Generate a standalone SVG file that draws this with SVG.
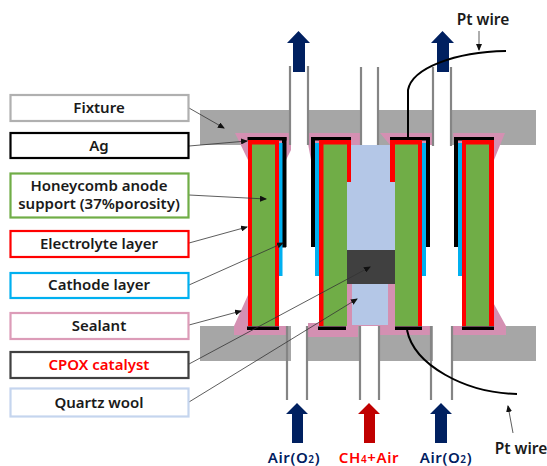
<svg xmlns="http://www.w3.org/2000/svg" width="547" height="466" viewBox="0 0 547 466">
<style>
text{font-family:"Noto Sans","Liberation Sans",sans-serif;font-weight:600;font-size:15px;fill:#1a1a1a;text-anchor:middle}
.box{fill:#fff;stroke-width:2.2}
.tube{stroke:#858585;stroke-width:2.2;fill:none}
.lead{stroke:#333;stroke-width:.8;fill:none;marker-end:url(#tip)}
.wire{stroke:#000;stroke-width:2;fill:none}
.gas{letter-spacing:.6px}
.g{fill:#70ad47}.r{fill:#f00}.c{fill:#00b0f0}.k{fill:#000}.s{fill:#d490b2}.q{fill:#b4c7e7}.n{fill:#002060}
</style>
<defs><marker id="tip" markerWidth="7" markerHeight="6" refX="6" refY="3" orient="auto" markerUnits="userSpaceOnUse"><path d="M0 0L7 3L0 6z" fill="#111"/></marker></defs>
<rect width="547" height="466" fill="#fff"/>
<g id="fixture">
<rect x="200" y="110" width="336" height="35" fill="#a6a6a6"/>
<rect x="200" y="326" width="336" height="35" fill="#a6a6a6"/>
</g>
<g id="sealant">
<path class="s" d="M235 133H292V148L286 160H248z"/>
<path class="s" d="M306 133H360V145H318V160H311z"/>
<path class="s" d="M380 133H435V145H390z"/>
<path class="s" d="M453 133H505L494 160H456z"/>
<path class="s" d="M248 295V326H287V335H234V326z"/>
<path class="s" d="M308 323H358V337H308z"/>
<path class="s" d="M380 326H431V335H380z"/>
<path class="s" d="M453 326H489V295L506 326V335H453z"/>
<path class="s" d="M346 284H395V326H346z"/>
</g>
<g id="channels">
<rect x="291" y="60" width="17" height="345" fill="#fff"/>
<rect x="361" y="60" width="18" height="85" fill="#fff"/>
<rect x="361" y="326" width="18" height="80" fill="#fff"/>
<rect x="433" y="60" width="18" height="345" fill="#fff"/>
<path class="tube" d="M290 66V145M308 66V145M361 67V145M378 67V145M433 67V146M451 67V146"/>
<path class="tube" d="M287 326V400M307 326V400M360 326V400M379 326V400M431 326V400M452 326V400"/>
</g>
<g id="quartz-wool">
<rect class="q" x="347" y="145" width="48" height="106"/>
<rect class="q" x="352" y="284" width="36" height="41"/>
</g>
<g id="cpox-catalyst"><rect x="345" y="250" width="50" height="34" fill="#404040"/></g>
<g id="cell-1">
<rect class="k" x="247.500" y="137" width="39" height="3.500"/>
<rect class="k" x="282" y="137" width="4.500" height="110"/>
<rect class="k" x="277" y="244" width="9" height="3.500"/>
<rect class="c" x="279" y="143" width="3.500" height="133"/>
<rect class="r" x="248" y="140" width="31" height="186"/>
<rect class="g" x="252" y="144.500" width="23" height="181.500"/>
<rect class="k" x="247" y="326.500" width="32" height="3.500"/>
</g>
<g id="cell-2">
<rect class="k" x="311" y="137" width="40" height="3.500"/>
<rect class="k" x="311" y="137" width="4" height="110"/>
<rect class="c" x="315" y="143" width="4" height="133"/>
<rect class="r" x="319" y="140" width="32" height="42"/>
<rect class="r" x="319" y="140" width="5" height="186"/>
<rect class="g" x="323.500" y="144.500" width="23.500" height="181.500"/>
<rect class="k" x="318" y="326.500" width="28" height="3.500"/>
</g>
<g id="cell-3">
<rect class="k" x="390" y="137" width="40" height="3.500"/>
<rect class="k" x="426" y="137" width="4" height="110"/>
<rect class="c" x="422" y="143" width="4" height="133"/>
<rect class="r" x="390" y="140" width="32" height="42"/>
<rect class="r" x="418" y="140" width="4" height="186"/>
<rect class="g" x="395" y="144.500" width="23" height="181.500"/>
<rect class="k" x="395" y="326.500" width="27" height="3.500"/>
</g>
<g id="cell-4">
<rect class="k" x="454" y="137" width="40" height="3.500"/>
<rect class="k" x="454" y="137" width="4" height="110"/>
<rect class="c" x="458" y="143" width="4" height="133"/>
<rect class="r" x="462" y="140" width="32" height="186"/>
<rect class="g" x="466" y="144.500" width="23" height="181.500"/>
<rect class="k" x="462" y="326.500" width="32" height="3.500"/>
</g>
<g id="flow-arrows">
<path class="n" d="M293 72V43H287L298.500 31L310 43H305V72z"/>
<path class="n" d="M437 72V43H431L442.500 31L454 43H449V72z"/>
<path class="n" d="M292 443V414H286L297 403L308 414H303V443z"/>
<path d="M364 443V414H358L369 403L380 414H375V443z" fill="#c00000"/>
<path class="n" d="M435 443V414H430L441 403L452 414H447V443z"/>
</g>
<g id="connectors">
<path class="lead" d="M189 108L224 128"/>
<path class="lead" d="M189 146L247 141"/>
<path class="lead" d="M189 195L266 199"/>
<path class="lead" d="M189 243L247 227"/>
<path class="lead" d="M189 285L283 243"/>
<path class="lead" d="M189 325L241 311"/>
<path class="lead" d="M189 364L370 267"/>
<path class="lead" d="M189 402L357 299"/>
<path class="lead" d="M479 31V50"/>
<path class="lead" d="M513 433L508 406"/>
</g>
<g id="pt-wires">
<path class="wire" d="M408 137V90C412 68 455 52 506 51"/>
<path class="wire" d="M407 330C414 365 465 393 517 394"/>
</g>
<g id="label-fixture"><rect class="box" x="10.500" y="95" width="178" height="26" stroke="#b0b0b0"/><text x="99" y="113">Fixture</text></g>
<g id="label-ag"><rect class="box" x="10.500" y="133" width="178" height="25" stroke="#000"/><text x="99" y="151">Ag</text></g>
<g id="label-honeycomb"><rect class="box" x="10.500" y="173.500" width="178" height="44" stroke="#70ad47"/><text><tspan x="99" y="191">Honeycomb anode</tspan><tspan x="99" y="209">support (37%porosity)</tspan></text></g>
<g id="label-electrolyte"><rect class="box" x="10.500" y="231" width="178" height="26" stroke="#f00"/><text x="99" y="249">Electrolyte layer</text></g>
<g id="label-cathode"><rect class="box" x="10.500" y="273" width="178" height="25" stroke="#00b0f0"/><text x="99" y="290">Cathode layer</text></g>
<g id="label-sealant"><rect class="box" x="10.500" y="313" width="178" height="26" stroke="#dc9cb8"/><text x="99" y="331">Sealant</text></g>
<g id="label-cpox"><rect class="box" x="10.500" y="352" width="178" height="26" stroke="#404040"/><text x="99" y="370" style="fill:#f00">CPOX catalyst</text></g>
<g id="label-quartz"><rect class="box" x="10.500" y="388.500" width="178" height="28" stroke="#c5d5ee"/><text x="99" y="408">Quartz wool</text></g>
<g id="gas-labels">
<text class="gas" x="294" y="463" style="fill:#002060">Air(O<tspan font-size="10">2</tspan>)</text>
<text class="gas" x="369" y="463" style="fill:#f00">CH<tspan font-size="10">4</tspan>+Air</text>
<text class="gas" x="446" y="463" style="fill:#002060">Air(O<tspan font-size="10">2</tspan>)</text>
<text x="483" y="25" style="font-size:15.500px">Pt wire</text>
<text x="521" y="454" style="font-size:15.500px">Pt wire</text>
</g>
</svg>
